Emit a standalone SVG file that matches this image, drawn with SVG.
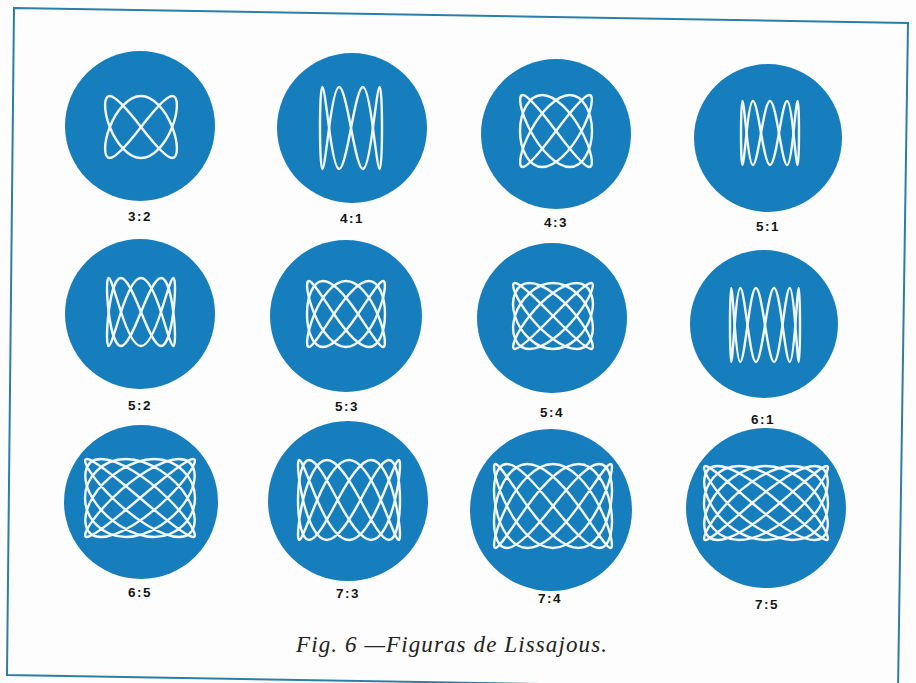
<svg xmlns="http://www.w3.org/2000/svg" xmlns:xlink="http://www.w3.org/1999/xlink" width="916" height="683" viewBox="0 0 916 683">
<style>
.disc{fill:#177ebe}
.lj{fill:none;stroke:#f2f8fc;stroke-width:2.4;vector-effect:non-scaling-stroke;stroke-linejoin:round}
.lbl{font-family:"Liberation Sans",Arial,sans-serif;font-weight:bold;font-size:13.5px;text-anchor:middle;fill:#151515;letter-spacing:1.5px}
.cap{font-family:"Liberation Serif","Times New Roman",serif;font-style:italic;font-size:23px;fill:#222}
.frame{fill:none;stroke:#2b7fa6;stroke-width:2}
</style>
<rect width="916" height="683" fill="#fdfdfd"/>
<polygon class="frame" points="14,8 908,23 898,690 7,675"/>

<g id="n-3-2">
<circle class="disc" cx="140" cy="126" r="75"/>
<g transform="translate(141,127) scale(0.36,-0.31)">
<path id="f1" class="lj" d="M86.6,0 C104.1,52.4 104.1,100 86.6,100 C69.2,100 34.9,52.4 0,0 C-34.9,-52.4 -69.2,-100 -86.6,-100 C-104.1,-100 -104.1,-52.4 -86.6,0 C-69.2,52.4 -34.9,100 0,100 C34.9,100 69.2,52.4 86.6,0"/>
<use href="#f1" transform="scale(1,-1)"/>
</g>
<text class="lbl" x="140" y="221">3:2</text>
</g>

<g id="n-4-1">
<circle class="disc" cx="352" cy="128" r="75"/>
<g transform="translate(351,128) scale(0.31,-0.41)">
<path id="f2" class="lj" d="M100,0 C100,52.4 97.4,100 92.4,100 C87.4,100 80,52.4 70.7,0 C61.5,-52.4 50.4,-100 38.3,-100 C26.2,-100 13.1,-52.4 0,0 C-13.1,52.4 -26.2,100 -38.3,100 C-50.4,100 -61.5,52.4 -70.7,0 C-80,-52.4 -87.4,-100 -92.4,-100 C-97.4,-100 -100,-52.4 -100,0"/>
<use href="#f2" transform="scale(-1,1)"/>
</g>
<text class="lbl" x="352" y="223">4:1</text>
</g>

<g id="n-4-3">
<circle class="disc" cx="556" cy="134" r="75"/>
<g transform="translate(556,131) scale(0.36,-0.36)">
<path id="f3" class="lj" d="M70.7,0 C98.5,52.4 107.4,100 92.4,100 C77.4,100 39.3,52.4 0,0 C-39.3,-52.4 -77.4,-100 -92.4,-100 C-107.4,-100 -98.5,-52.4 -70.7,0 C-42.9,52.4 2,100 38.3,100 C74.6,100 100,52.4 100,0 C100,-52.4 74.6,-100 38.3,-100 C2,-100 -42.9,-52.4 -70.7,0"/>
<use href="#f3" transform="scale(-1,1)"/>
</g>
<text class="lbl" x="556" y="227">4:3</text>
</g>

<g id="n-5-1">
<circle class="disc" cx="768" cy="138" r="74"/>
<g transform="translate(770,133) scale(0.29,-0.32)">
<path id="f4" class="lj" d="M100,0 C100,52.4 98.4,100 95.1,100 C91.9,100 87.1,52.4 80.9,0 C74.8,-52.4 67.3,-100 58.8,-100 C50.3,-100 40.9,-52.4 30.9,0 C20.9,52.4 10.5,100 0,100 C-10.5,100 -20.9,52.4 -30.9,0 C-40.9,-52.4 -50.3,-100 -58.8,-100 C-67.3,-100 -74.8,-52.4 -80.9,0 C-87.1,52.4 -91.9,100 -95.1,100 C-98.4,100 -100,52.4 -100,0"/>
<use href="#f4" transform="scale(-1,-1)"/>
</g>
<text class="lbl" x="768" y="231">5:1</text>
</g>

<g id="n-5-2">
<circle class="disc" cx="140" cy="314" r="75"/>
<g transform="translate(141,312) scale(0.34,-0.34)">
<path id="f5" class="lj" d="M95.1,0 C101.6,52.4 101.6,100 95.1,100 C88.6,100 75.7,52.4 58.8,0 C41.8,-52.4 20.9,-100 0,-100 C-20.9,-100 -41.8,-52.4 -58.8,0 C-75.7,52.4 -88.6,100 -95.1,100 C-101.6,100 -101.6,52.4 -95.1,0 C-88.6,-52.4 -75.7,-100 -58.8,-100 C-41.8,-100 -20.9,-52.4 0,0 C20.9,52.4 41.8,100 58.8,100 C75.7,100 88.6,52.4 95.1,0"/>
<use href="#f5" transform="scale(1,-1)"/>
</g>
<text class="lbl" x="140" y="410">5:2</text>
</g>

<g id="n-5-3">
<circle class="disc" cx="346" cy="316" r="76"/>
<g transform="translate(346,314) scale(0.39,-0.33)">
<path id="f6" class="lj" d="M80.9,0 C99.4,52.4 104.8,100 95.1,100 C85.4,100 60.8,52.4 30.9,0 C1,-52.4 -33.4,-100 -58.8,-100 C-84.2,-100 -100,-52.4 -100,0 C-100,52.4 -84.2,100 -58.8,100 C-33.4,100 1,52.4 30.9,0 C60.8,-52.4 85.4,-100 95.1,-100 C104.8,-100 99.4,-52.4 80.9,0 C62.4,52.4 31.4,100 0,100 C-31.4,100 -62.4,52.4 -80.9,0"/>
<use href="#f6" transform="scale(-1,-1)"/>
</g>
<text class="lbl" x="347" y="411">5:3</text>
</g>

<g id="n-5-4">
<circle class="disc" cx="552" cy="318" r="75"/>
<g transform="translate(553,316) scale(0.40,-0.33)">
<path id="f7" class="lj" d="M58.8,0 C92.7,52.4 108.1,100 95.1,100 C82.2,100 41.9,52.4 0,0 C-41.9,-52.4 -82.2,-100 -95.1,-100 C-108.1,-100 -92.7,-52.4 -58.8,0 C-24.9,52.4 24.9,100 58.8,100 C92.7,100 108.1,52.4 95.1,0 C82.2,-52.4 41.9,-100 0,-100 C-41.9,-100 -82.2,-52.4 -95.1,0 C-108.1,52.4 -92.7,100 -58.8,100 C-24.9,100 24.9,52.4 58.8,0"/>
<use href="#f7" transform="scale(1,-1)"/>
</g>
<text class="lbl" x="552" y="417">5:4</text>
</g>

<g id="n-6-1">
<circle class="disc" cx="764" cy="324" r="74"/>
<g transform="translate(765,325) scale(0.35,-0.37)">
<path id="f8" class="lj" d="M100,0 C100,52.4 98.9,100 96.6,100 C94.3,100 91,52.4 86.6,0 C82.2,-52.4 76.9,-100 70.7,-100 C64.5,-100 57.6,-52.4 50,0 C42.4,52.4 34.3,100 25.9,100 C17.5,100 8.7,52.4 0,0 C-8.7,-52.4 -17.5,-100 -25.9,-100 C-34.3,-100 -42.4,-52.4 -50,0 C-57.6,52.4 -64.5,100 -70.7,100 C-76.9,100 -82.2,52.4 -86.6,0 C-91,-52.4 -94.3,-100 -96.6,-100 C-98.9,-100 -100,-52.4 -100,0"/>
<use href="#f8" transform="scale(-1,1)"/>
</g>
<text class="lbl" x="763" y="424">6:1</text>
</g>

<g id="n-6-5">
<circle class="disc" cx="141" cy="502" r="77"/>
<g transform="translate(140,498) scale(0.55,-0.39)">
<path id="f9" class="lj" d="M50,0 C87.8,52.4 107.9,100 96.6,100 C85.3,100 43.6,52.4 0,0 C-43.6,-52.4 -85.3,-100 -96.6,-100 C-107.9,-100 -87.8,-52.4 -50,0 C-12.2,52.4 39.9,100 70.7,100 C101.6,100 108.4,52.4 86.6,0 C64.8,-52.4 16.3,-100 -25.9,-100 C-68,-100 -100,-52.4 -100,0 C-100,52.4 -68,100 -25.9,100 C16.3,100 64.8,52.4 86.6,0 C108.4,-52.4 101.6,-100 70.7,-100 C39.9,-100 -12.2,-52.4 -50,0"/>
<use href="#f9" transform="scale(-1,1)"/>
</g>
<text class="lbl" x="140" y="597">6:5</text>
</g>

<g id="n-7-3">
<circle class="disc" cx="348" cy="501" r="80"/>
<g transform="translate(349,500) scale(0.51,-0.40)">
<path id="f10" class="lj" d="M90.1,0 C99.8,52.4 102.5,100 97.5,100 C92.5,100 79.9,52.4 62.4,0 C44.8,-52.4 22.4,-100 0,-100 C-22.4,-100 -44.8,-52.4 -62.4,0 C-79.9,52.4 -92.5,100 -97.5,100 C-102.5,100 -99.8,52.4 -90.1,0 C-80.4,-52.4 -63.6,-100 -43.4,-100 C-23.2,-100 0.4,-52.4 22.3,0 C44.1,52.4 64.2,100 78.2,100 C92.2,100 100,52.4 100,0 C100,-52.4 92.2,-100 78.2,-100 C64.2,-100 44.1,-52.4 22.3,0 C0.4,52.4 -23.2,100 -43.4,100 C-63.6,100 -80.4,52.4 -90.1,0"/>
<use href="#f10" transform="scale(-1,-1)"/>
</g>
<text class="lbl" x="348" y="598">7:3</text>
</g>

<g id="n-7-4">
<circle class="disc" cx="551" cy="510" r="81"/>
<g transform="translate(553,506) scale(0.59,-0.42)">
<path id="f11" class="lj" d="M78.2,0 C96.8,52.4 104.2,100 97.5,100 C90.8,100 70.4,52.4 43.4,0 C16.4,-52.4 -16.4,-100 -43.4,-100 C-70.4,-100 -90.8,-52.4 -97.5,0 C-104.2,52.4 -96.8,100 -78.2,100 C-59.5,100 -29.9,52.4 0,0 C29.9,-52.4 59.5,-100 78.2,-100 C96.8,-100 104.2,-52.4 97.5,0 C90.8,52.4 70.4,100 43.4,100 C16.4,100 -16.4,52.4 -43.4,0 C-70.4,-52.4 -90.8,-100 -97.5,-100 C-104.2,-100 -96.8,-52.4 -78.2,0 C-59.5,52.4 -29.9,100 0,100 C29.9,100 59.5,52.4 78.2,0"/>
<use href="#f11" transform="scale(1,-1)"/>
</g>
<text class="lbl" x="550" y="603">7:4</text>
</g>

<g id="n-7-5">
<circle class="disc" cx="766" cy="508" r="80"/>
<g transform="translate(766,503) scale(0.62,-0.37)">
<path id="f12" class="lj" d="M62.4,0 C91.6,52.4 105.8,100 97.5,100 C89.2,100 58.7,52.4 22.3,0 C-14.2,-52.4 -54.9,-100 -78.2,-100 C-101.5,-100 -106.3,-52.4 -90.1,0 C-73.9,52.4 -37.4,100 0,100 C37.4,100 73.9,52.4 90.1,0 C106.3,-52.4 101.5,-100 78.2,-100 C54.9,-100 14.2,-52.4 -22.3,0 C-58.7,52.4 -89.2,100 -97.5,100 C-105.8,100 -91.6,52.4 -62.4,0 C-33.1,-52.4 9.7,-100 43.4,-100 C77.1,-100 100,-52.4 100,0 C100,52.4 77.1,100 43.4,100 C9.7,100 -33.1,52.4 -62.4,0"/>
<use href="#f12" transform="scale(-1,-1)"/>
</g>
<text class="lbl" x="767" y="609">7:5</text>
</g>

<g id="connectors"/>

<text class="cap" x="296" y="652" textLength="311" lengthAdjust="spacing">Fig. 6 —Figuras de Lissajous.</text>
</svg>
